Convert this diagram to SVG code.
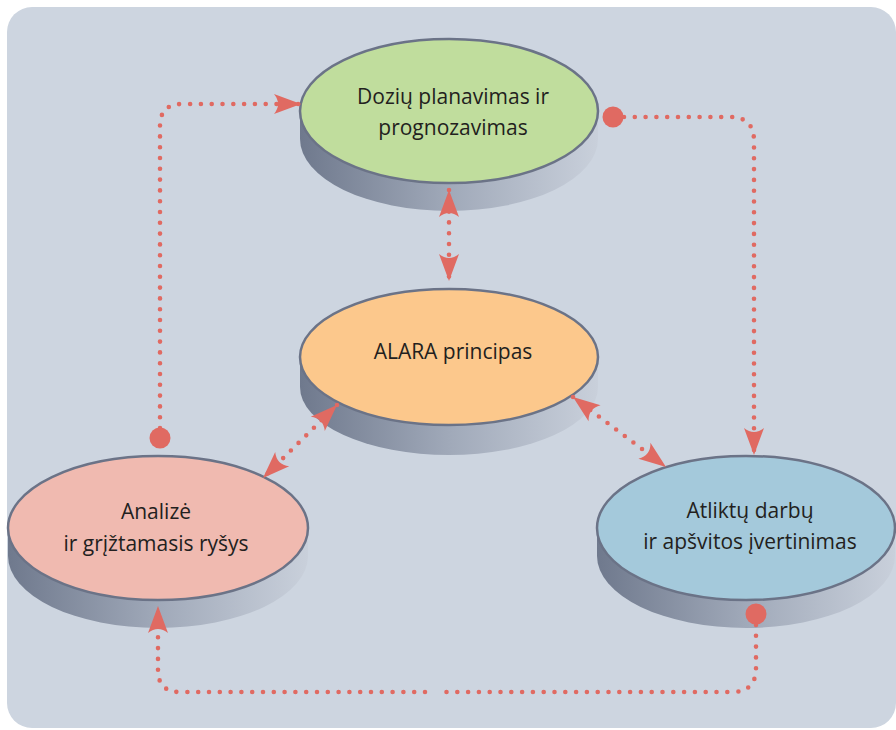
<svg xmlns="http://www.w3.org/2000/svg" width="896" height="730" viewBox="0 0 896 730">
  <defs>
    <linearGradient id="side" x1="0" y1="0" x2="1" y2="0">
      <stop offset="0" stop-color="#6f798d"/>
      <stop offset="0.5" stop-color="#a0a9b9"/>
      <stop offset="1" stop-color="#c9d0db"/>
    </linearGradient>
    <marker id="arr" viewBox="-30 -12 32 24" refX="0" refY="0" markerWidth="32" markerHeight="24" markerUnits="userSpaceOnUse" orient="auto-start-reverse">
      <path d="M0,0 L-27,-10 Q-19,0 -27,10 Z" fill="#e06a62"/>
    </marker>
    <style>
      .bg { fill: #cdd5e0; }
      .side { fill: url(#side); }
      .face { stroke: #6b7387; stroke-width: 2.5; }
      .lbl { font-family: "Open Sans", "Noto Sans", "DejaVu Sans", sans-serif; font-size: 21px; fill: #231f20; text-anchor: middle; }
      .dot { fill: none; stroke: #e06a62; stroke-width: 4.6; stroke-linecap: round; stroke-dasharray: 0 10.8; }
      .cap { fill: #e06a62; }
    </style>
  </defs>

  <rect class="bg" x="7" y="7" width="889" height="721" rx="25"/>

  <g id="node-dozes">
    <ellipse class="side" cx="449" cy="139" rx="149" ry="72"/>
    <rect class="side" x="300" y="111" width="298" height="28"/>
    <ellipse class="face" cx="449" cy="111" rx="149" ry="72" fill="#c0dd9d"/>
    <text class="lbl" x="453" y="104">Dozių planavimas ir</text>
    <text class="lbl" x="453" y="135">prognozavimas</text>
  </g>

  <g id="node-alara">
    <ellipse class="side" cx="449" cy="387" rx="149" ry="68"/>
    <rect class="side" x="300" y="357" width="298" height="30"/>
    <ellipse class="face" cx="449" cy="357" rx="149" ry="68" fill="#fcc88c"/>
    <text class="lbl" x="453" y="359">ALARA principas</text>
  </g>

  <g id="node-analize">
    <ellipse class="side" cx="158" cy="556" rx="150" ry="72"/>
    <rect class="side" x="8" y="528" width="300" height="28"/>
    <ellipse class="face" cx="158" cy="528" rx="150" ry="72" fill="#f0bab0"/>
    <text class="lbl" x="156" y="519">Analizė</text>
    <text class="lbl" x="156" y="551">ir grįžtamasis ryšys</text>
  </g>

  <g id="node-vertinimas">
    <ellipse class="side" cx="746" cy="556" rx="149" ry="72"/>
    <rect class="side" x="597" y="528" width="298" height="28"/>
    <ellipse class="face" cx="746" cy="528" rx="149" ry="72" fill="#a4c9db"/>
    <text class="lbl" x="750" y="518">Atliktų darbų</text>
    <text class="lbl" x="750" y="549">ir apšvitos įvertinimas</text>
  </g>

  <g id="connectors">
    <circle class="cap" cx="160" cy="438" r="10.5"/>
    <path class="dot" d="M160,428 L160,126 Q160,104 182,104 L301,104" marker-end="url(#arr)"/>

    <circle class="cap" cx="613" cy="117" r="10.5"/>
    <path class="dot" d="M624,117 L730,117 Q754,117 754,141 L754,455" marker-end="url(#arr)"/>

    <circle class="cap" cx="756" cy="614" r="10.5"/>
    <path class="dot" d="M756,625 L756,668 Q756,692 732,692 L445.5,692"/>
    <path class="dot" d="M425,692 L180,692 Q158,692 158,670 L158,606" marker-end="url(#arr)"/>

    <path class="dot" d="M449,190 L449,281" marker-start="url(#arr)" marker-end="url(#arr)"/>
    <path class="dot" d="M337,405 L263,478" marker-start="url(#arr)" marker-end="url(#arr)"/>
    <path class="dot" d="M573,397 L666,467" marker-start="url(#arr)" marker-end="url(#arr)"/>
  </g>
</svg>
